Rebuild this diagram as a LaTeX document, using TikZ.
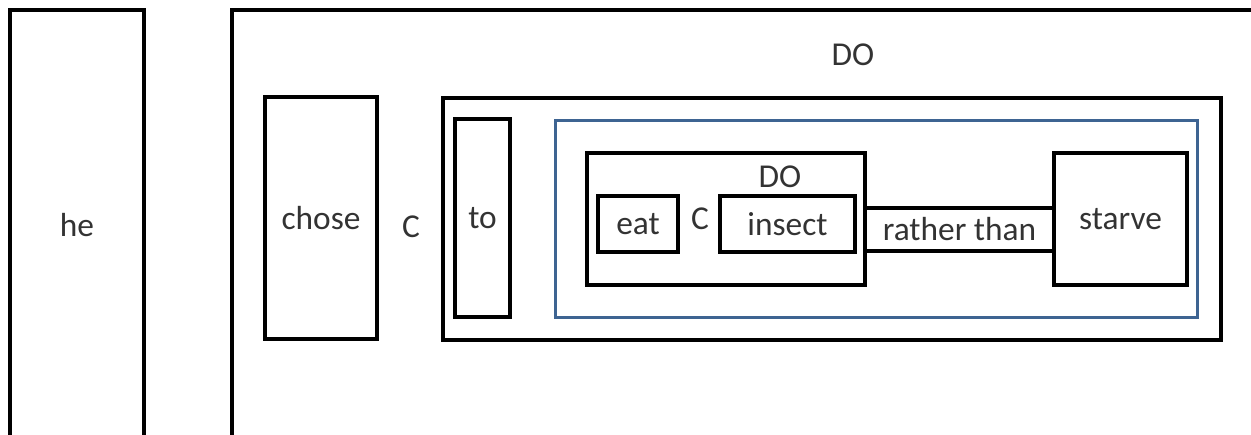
\documentclass[tikz,border=0pt]{standalone}
\usepackage{fontspec}
\setmainfont{Carlito}
\definecolor{boxblue}{RGB}{62,100,146}

\begin{document}
\begin{tikzpicture}[x=0.02cm,y=-0.02cm,
        box/.style={draw=black,line width=2pt,inner sep=0pt},
        word/.style={text=black!80,font=\fontsize{19}{22}\selectfont}]
        \useasboundingbox (0,0) rectangle (1251,434);
        % left column and the big frame
        \node[box,word,minimum width=2.68cm,minimum height=8.6cm] (he) at (77,225) {he};
        \node[box,minimum width=20.76cm,minimum height=8.8cm] (outer) at (751,230) {};
        \node[word] (outerlabel) at (853,55) {DO};
        \node[box,word,minimum width=2.24cm,minimum height=4.84cm] (chose) at (321,218) {chose};
        \node[word] (c1) at (411,227) {C};
        \node[box,minimum width=15.56cm,minimum height=4.84cm] (inner) at (832,219) {};
        \node[box,word,minimum width=1.1cm,minimum height=3.96cm] (to) at (482.5,218) {to};
        \node[draw=boxblue,line width=1.7pt,inner sep=0pt,minimum width=12.86cm,minimum height=3.96cm] (clause) at (876.5,219) {};
        % eat insect rather than starve
        \node[box,minimum width=5.56cm,minimum height=2.64cm] (doin) at (726,219) {};
        \node[word] (doinlabel) at (780,177) {DO};
        \node[box,word,minimum width=1.6cm,minimum height=1.12cm] (eat) at (638,224) {eat};
        \node[word] (c2) at (700,219) {C};
        \node[box,word,minimum width=2.7cm,minimum height=1.12cm] (insect) at (787.5,224) {insect};
        \node[box,word,minimum width=2.66cm,minimum height=2.64cm] (starve) at (1120.5,219) {starve};
        \node[box,word,minimum width=3.78cm,minimum height=0.86cm] (rather) at (959.5,229.5) {rather than};
\end{tikzpicture}
\end{document}
